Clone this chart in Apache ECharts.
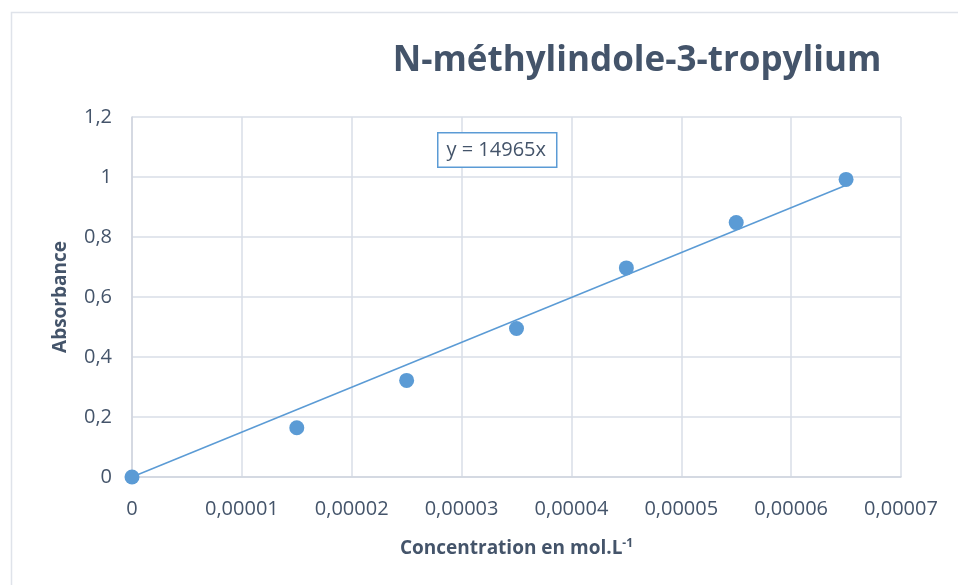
<!DOCTYPE html>
<html>
<head>
<meta charset="utf-8">
<script src="https://cdn.jsdelivr.net/npm/echarts@6/dist/echarts.min.js"></script>
<style>
  html, body { margin: 0; padding: 0; background: #ffffff; }
  #chart { width: 958px; height: 585px; }
</style>
</head>
<body>
<div id="chart"></div>
<script>
// Measured concentrations (mol/L) and absorbances
const concentrations = [0, 0.000015, 0.000025, 0.000035, 0.000045, 0.000055, 0.000065];
const absorbances = [0, 0.164, 0.322, 0.495, 0.697, 0.848, 0.992];

// Linear fit through origin: y = slope * x
const slope = 14965;
const fitRange = [0, 0.000065];

const titleText = 'N-méthylindole-3-tropylium';
const xTitle = 'Concentration en mol.L';
const yTitle = 'Absorbance';

const textColor = '#44546a';
const markColor = '#5b9bd5';
const gridColor = '#d9dee7';

const fmt = v => String(Number(v.toPrecision(6))).replace('.', ',');
const fmtX = v => v === 0 ? '0' : v.toFixed(5).replace('.', ',');

const points = concentrations.map((c, i) => [c, absorbances[i]]);
const fitLine = fitRange.map(x => [x, slope * x]);

const chart = echarts.init(document.getElementById('chart'), null, { renderer: 'canvas' });

chart.setOption({
  backgroundColor: '#ffffff',
  animation: false,
  title: {
    text: titleText,
    left: 632,
    top: 39,
    textAlign: 'center',
    textStyle: {
      fontFamily: 'Open Sans',
      fontWeight: 'bold',
      fontSize: 35,
      color: textColor
    }
  },
  grid: { left: 132, right: 57, top: 117, bottom: 108, containLabel: false },
  xAxis: {
    type: 'value',
    min: 0,
    max: 0.00007,
    interval: 0.00001,
    name: '{b|' + xTitle + '}{sup|-1}',
    nameLocation: 'middle',
    nameGap: 61,
    nameTextStyle: {
      rich: {
        b: { fontFamily: 'Open Sans', fontWeight: 'bold', fontSize: 19, color: textColor },
        sup: { fontFamily: 'Open Sans', fontWeight: 'bold', fontSize: 12, color: textColor, verticalAlign: 'top', padding: [0, 0, 9, 0] }
      }
    },
    axisLine: { show: true, lineStyle: { color: '#d0d5de', width: 1.5 } },
    axisTick: { show: false },
    splitLine: { show: true, lineStyle: { color: gridColor, width: 1.5 } },
    axisLabel: {
      formatter: fmtX,
      margin: 22,
      fontFamily: 'Open Sans',
      fontSize: 20,
      color: textColor
    }
  },
  yAxis: {
    type: 'value',
    min: 0,
    max: 1.2,
    interval: 0.2,
    name: yTitle,
    nameLocation: 'middle',
    nameRotate: 90,
    nameGap: 62,
    nameTextStyle: { fontFamily: 'Open Sans', fontWeight: 'bold', fontSize: 19, color: textColor },
    axisLine: { show: true, lineStyle: { color: '#d0d5de', width: 1.5 } },
    axisTick: { show: false },
    splitLine: { show: true, lineStyle: { color: gridColor, width: 1.5 } },
    axisLabel: {
      formatter: fmt,
      margin: 20,
      fontFamily: 'Open Sans',
      fontSize: 20,
      color: textColor
    }
  },
  series: [
    {
      type: 'line',
      data: fitLine,
      symbol: 'none',
      lineStyle: { color: markColor, width: 1.5 },
      z: 2
    },
    {
      type: 'scatter',
      data: points,
      symbol: 'circle',
      symbolSize: 15,
      itemStyle: { color: markColor, opacity: 1 },
      z: 3
    }
  ],
  graphic: [
    {
      type: 'rect',
      left: 9,
      top: 10,
      shape: { width: 1000, height: 1000 },
      style: { fill: 'none', stroke: '#dfe3ea', lineWidth: 1.5 },
      silent: true,
      z: -10
    },
    {
      type: 'text',
      left: 437,
      top: 132,
      z: 10,
      style: {
        text: 'y = ' + slope + 'x',
        fontFamily: 'Open Sans',
        fontSize: 20,
        fill: textColor,
        backgroundColor: '#ffffff',
        borderColor: markColor,
        borderWidth: 1.5,
        padding: [7, 10, 6, 8]
      }
    }
  ]
});
</script>
</body>
</html>
